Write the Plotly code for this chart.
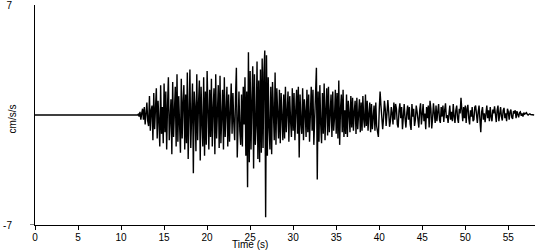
import numpy as np
import plotly.graph_objects as go

# quiet pre-event segment
quiet_t = [0.0, 11.9]
quiet_v = [0.0, 0.0]

# acceleration record (cm/s/s), sampled every 0.1 s from 12.0 s to 58.0 s
accel = [
    0.05, -0.1, 0.2, -0.3, 0.1, 0.4, -0.3, 0.5, -0.6, 0.2,        # 12
    0.8, -0.4, -0.7, 1.2, -1.0, 0.3, 0.6, -1.6, 1.4, -0.9,        # 13
    0.2, 1.7, -1.5, 0.9, -0.4, -2.0, 1.9, -1.2, 0.5, -1.8,        # 14
    2.0, -1.1, 1.5, -2.2, 0.6, 2.4, -1.6, -0.5, 1.0, -2.5,        # 15
    2.1, -1.4, 0.3, 1.8, -2.0, 2.6, -1.7, 1.2, -0.6, -2.4,        # 16
    2.3, -1.5, 0.8, 1.9, -2.2, 1.3, -1.8, 2.7, -2.8, 0.6,         # 17
    2.9, -2.1, -0.4, 2.0, -3.7, 1.5, 0.5, -2.3, 2.6, -1.6,        # 18
    0.7, 2.2, -2.9, 1.8, -0.5, -2.0, 2.4, -2.6, 1.5, -1.9,        # 19
    2.8, -0.6, -2.2, 1.6, -1.4, 2.3, -2.0, 0.4, 1.7, -2.5,        # 20
    2.6, -1.5, 0.8, 1.9, -2.1, 2.5, -1.8, -0.3, 1.6, -2.2,        # 21
    2.4, -1.4, 0.5, 1.8, -2.0, 1.3, -1.7, 0.2, 2.0, -1.2,         # 22
    1.4, -0.5, -1.6, 1.1, 3.0, -2.7, 0.4, 1.5, -1.0, -1.9,        # 23
    1.3, -2.0, 1.8, -0.6, 2.4, -2.6, 1.5, -4.6, 4.0, -3.0,        # 24
    2.8, -2.2, 0.9, 3.1, -3.4, 2.6, -1.9, -0.7, 3.4, -2.8,        # 25
    2.2, -3.0, 2.9, -2.4, 3.6, -2.1, 2.7, 4.1, -6.5, 3.8,         # 26
    -2.6, 2.4, -0.8, -2.2, 1.8, -2.5, 2.1, 0.4, -1.6, 2.7,        # 27
    -1.9, 1.7, -0.5, -1.5, 1.6, -1.8, 1.4, 0.3, -1.6, 1.3,        # 28
    -1.5, 1.8, -1.1, 0.2, 1.5, -1.7, 1.2, -0.4, -1.4, 1.7,        # 29
    -1.0, 1.4, -1.6, 0.3, 1.6, -1.2, 1.8, -2.7, 1.3, -0.5,        # 30
    -1.2, 1.7, -1.6, 1.0, 0.2, -1.4, 1.6, -1.1, 1.3, -1.7,        # 31
    0.4, 1.8, -1.0, 1.6, -1.9, -0.3, 1.5, 3.0, -4.1, 1.5,         # 32
    -1.7, 1.9, -0.6, -1.8, 1.4, -1.2, 2.0, -1.6, 0.3, 1.7,        # 33
    -1.3, 1.8, -1.1, 0.2, 1.3, -1.4, 1.5, -1.0, -0.2, 1.6,        # 34
    -1.2, 1.4, -1.5, 2.2, -1.9, 0.4, 1.3, -1.1, 1.6, -1.4,        # 35
    0.3, -1.2, 1.3, -1.4, 0.9, 0.1, -1.1, 1.2, -0.8, 1.1,         # 36
    -1.0, 0.2, 0.9, -1.2, 1.1, -0.9, 0.3, 1.0, -1.1, 0.8,         # 37
    -1.0, 1.2, -0.3, -0.8, 1.3, -0.7, 0.9, -1.0, 0.1, 0.8,        # 38
    -1.1, 0.7, -0.9, 0.2, 0.6, -1.0, 0.8, -0.7, -1.1, -1.4,       # 39
    0.3, 1.5, 0.6, -0.5, -0.9, -0.2, 0.9, 0.4, -0.7, 0.1,         # 40
    0.95, 0.2, -0.75, -0.4, 0.5, 0.1, -0.6, 0.8, -0.3, 0.7,       # 41
    0.4, -0.6, -0.8, 0.3, 0.75, -0.2, 0.5, -0.9, 0.4, 0.7,        # 42
    -0.2, -0.8, 0.1, 0.6, -0.3, 0.5, -0.6, -0.95, 0.7, -0.1,      # 43
    0.4, -0.7, -0.3, 0.6, 0.2, -0.5, -0.8, 0.3, 0.75, -0.6,       # 44
    0.2, 0.7, -0.4, 0.1, -0.9, 0.5, -0.2, 0.6, -0.8, 0.9,         # 45
    0.4, -0.85, -0.2, 0.75, 0.1, -0.5, 0.6, -0.4, 0.2, 0.7,       # 46
    -0.3, -0.5, 0.5, -0.1, 0.6, -0.45, 0.3, 0.75, -0.2, 0.0,      # 47
    -0.5, 0.4, 0.6, -0.3, 0.2, -0.4, 0.7, -0.1, -0.5, 0.3,        # 48
    0.6, -0.2, -0.5, 0.4, 0.1, 1.1, 0.2, -0.4, 0.5, -0.2,         # 49
    0.6, -0.5, 0.4, 0.65, -0.2, -0.6, 0.3, -0.1, 0.5, -0.4,       # 50
    -0.3, 0.5, 0.6, -0.1, -0.5, 0.2, 0.6, -0.3, -1.1, 0.2,        # 51
    0.5, -0.3, 0.1, -0.45, 0.4, 0.6, -0.2, 0.3, -0.4, 0.5,        # 52
    -0.1, -0.4, 0.35, 0.1, 0.55, -0.2, -0.45, 0.3, 0.6, -0.4,     # 53
    0.25, 0.5, -0.1, -0.35, 0.3, 0.45, -0.2, 0.1, -0.4, 0.4,      # 54
    0.2, -0.3, 0.2, 0.35, -0.15, -0.25, 0.25, 0.1, 0.3, -0.2,     # 55
    0.25, 0.0, -0.15, 0.15, 0.2, -0.05, 0.1, -0.1, 0.15, 0.05,    # 56
    0.1, 0.15, 0.05, 0.0, 0.05, 0.08, 0.03, 0.02, 0.04, 0.01,     # 57
    0.0,                                                           # 58
]
t_start = 12.0
dt = 0.1

x_ticks = [0, 5, 10, 15, 20, 25, 30, 35, 40, 45, 50, 55]
y_ticks = [-7, 7]

t = list(quiet_t) + [round(t_start + i * dt, 2) for i in range(len(accel))]
v = list(quiet_v) + accel

FONT = "Liberation Sans, Arial, sans-serif"

fig = go.Figure()
fig.add_trace(go.Scatter(x=t, y=v, mode="lines",
                         line=dict(color="black", width=1.4),
                         hoverinfo="skip", showlegend=False))

fig.update_layout(
    width=550, height=250,
    margin=dict(l=35, r=15, t=5, b=25, autoexpand=False),
    paper_bgcolor="white", plot_bgcolor="white",
    font=dict(family=FONT, size=10, color="black"),
    xaxis=dict(range=[0, 58.1], tickvals=x_ticks, ticktext=[str(v) for v in x_ticks],
               showline=True, linecolor="black", linewidth=1,
               ticks="outside", ticklen=4, tickcolor="black", tickwidth=1,
               ticklabelstandoff=-1, ticklabeloverflow="allow", automargin=False,
               showgrid=False, zeroline=False, fixedrange=True),
    yaxis=dict(range=[-7, 7], tickvals=y_ticks, ticktext=[str(v) for v in y_ticks],
               showline=True, linecolor="black", linewidth=1,
               ticks="", ticklabelstandoff=20, ticklabeloverflow="allow", automargin=False,
               showgrid=False, zeroline=False, fixedrange=True),
    annotations=[
        dict(text="Time (s)", xref="paper", yref="paper", x=0.43, y=-25 / 220,
             yshift=-2, showarrow=False, xanchor="center", yanchor="bottom",
             font=dict(family=FONT, size=10)),
        dict(text="cm/s/s", xref="paper", yref="paper", x=0, xshift=-23, y=0.48,
             textangle=-90, showarrow=False, xanchor="center", yanchor="middle",
             font=dict(family=FONT, size=10)),
    ],
    shapes=[dict(type="line", xref="paper", yref="y", x0=-0.01, x1=0, y0=-7, y1=-7,
                 line=dict(color="black", width=1))],
)

fig.write_html("out.html")
